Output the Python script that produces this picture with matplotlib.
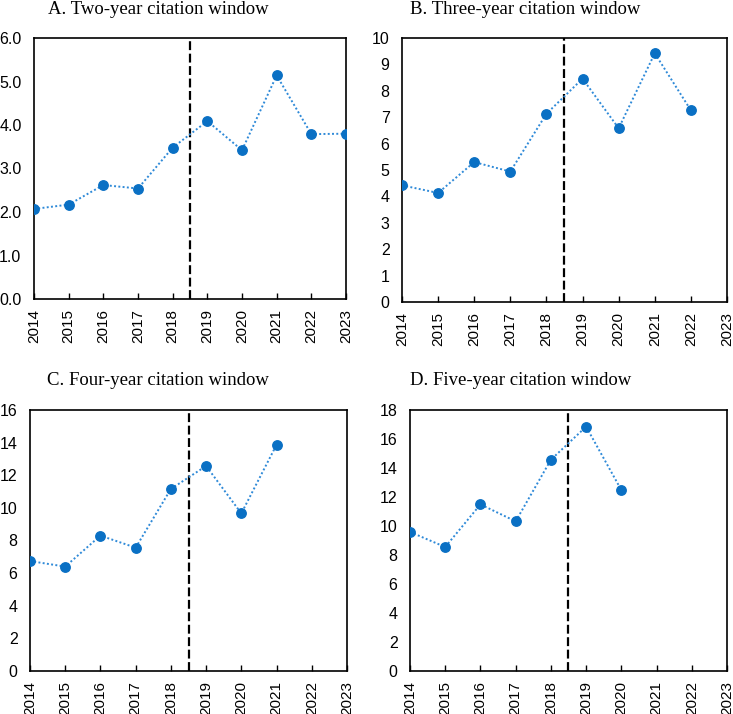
import matplotlib
matplotlib.use("Agg")
import matplotlib.pyplot as plt
from matplotlib.ticker import FormatStrFormatter

YEARS = list(range(2014, 2024))

two_year = [2.07, 2.17, 2.62, 2.54, 3.48, 4.09, 3.42, 5.14, 3.79, 3.80]
three_year = [4.42, 4.13, 5.30, 4.94, 7.13, 8.46, 6.58, 9.42, 7.26]
four_year = [6.74, 6.40, 8.30, 7.56, 11.16, 12.57, 9.66, 13.87]
five_year = [9.59, 8.55, 11.49, 10.32, 14.57, 16.85, 12.48]

titles = [
    "A. Two-year citation window",
    "B. Three-year citation window",
    "C. Four-year citation window",
    "D. Five-year citation window",
]
y_tops = [6, 10, 16, 18]
y_steps = [1, 1, 2, 2]
break_year = 2018.5

MARKER = "#0A70C4"
LINE = "#2F8AD8"

panels = [
    # axes rect, title x, title baseline y (figure pixels), y formatter
    ([34, 38, 346, 299], 158, 14, "%.1f"),
    ([402, 38, 727, 302], 525, 14, "%d"),
    ([30, 410, 347, 671], 158, 385, "%d"),
    ([410, 410, 727, 671], 521, 385, "%d"),
]
series = [two_year, three_year, four_year, five_year]

W, H = 733, 714
fig = plt.figure(figsize=(W / 100, H / 100), dpi=100)
fig.patch.set_facecolor("white")

for (rect, tx, ty, fmt), vals, title, top, step in zip(
    panels, series, titles, y_tops, y_steps
):
    x0, y0, x1, y1 = rect
    ax = fig.add_axes([x0 / W, 1 - y1 / H, (x1 - x0) / W, (y1 - y0) / H])
    ax.plot(
        YEARS[: len(vals)],
        vals,
        linestyle=(0, (1, 1.2)),
        color=LINE,
        linewidth=1.4,
        marker="o",
        markersize=6.8,
        markerfacecolor=MARKER,
        markeredgecolor=MARKER,
        zorder=3,
    )
    ax.axvline(break_year, color="black", linestyle=(0, (4, 1.6)), linewidth=1.6, zorder=2)
    ax.set_xlim(YEARS[0], YEARS[-1])
    ax.set_ylim(0, top)
    ax.set_xticks(YEARS)
    ax.set_xticklabels([str(y) for y in YEARS], rotation=90, family="Liberation Sans", fontsize=11)
    ax.set_yticks(range(0, top + 1, step))
    ax.yaxis.set_major_formatter(FormatStrFormatter(fmt))
    for lab in ax.get_yticklabels():
        lab.set_family("Liberation Sans")
        lab.set_fontsize(11.5)
    ax.tick_params(axis="x", direction="in", length=4, width=1, pad=7, color="black")
    ax.tick_params(axis="y", length=0, pad=9)
    for sp in ax.spines.values():
        sp.set_linewidth(1.2)
        sp.set_color("black")
    fig.text(tx / W, 1 - ty / H, title, ha="center", va="baseline",
             family="Liberation Serif", fontsize=13.5)

fig.savefig("out.png", dpi=100)
